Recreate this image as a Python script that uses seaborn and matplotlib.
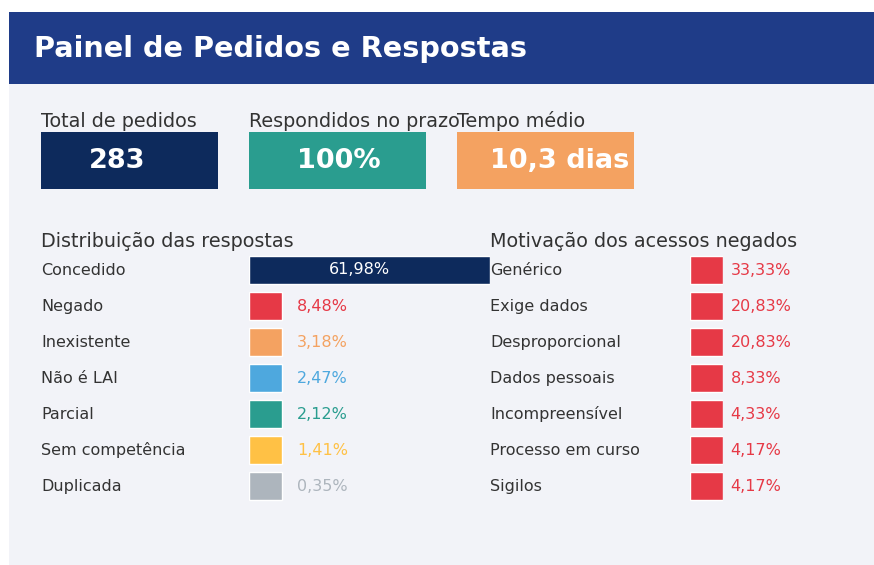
import numpy as np
import pandas as pd
import matplotlib
matplotlib.use("Agg")
import matplotlib.pyplot as plt
import matplotlib.transforms as mtransforms
from matplotlib.patches import Rectangle
import seaborn as sns

# --- data ---
kpi_labels = ["Total de pedidos", "Respondidos no prazo", "Tempo médio"]
kpi_values = ["283", "100%", "10,3 dias"]
kpi_colors = ["#0d2a5c", "#2a9d8f", "#f4a261"]

resp_categories = ["Concedido", "Negado", "Inexistente", "Não é LAI", "Parcial",
                   "Sem competência", "Duplicada"]
resp_values = [61.98, 8.48, 3.18, 2.47, 2.12, 1.41, 0.35]
resp_colors = ["#0d2a5c", "#e63946", "#f4a261", "#4ea8de", "#2a9d8f", "#ffc145", "#adb5bd"]

neg_categories = ["Genérico", "Exige dados", "Desproporcional", "Dados pessoais",
                  "Incompreensível", "Processo em curso", "Sigilos"]
neg_values = [33.33, 20.83, 20.83, 8.33, 4.33, 4.17, 4.17]
neg_color = "#e63946"

W, H = 874, 565
TEXT = "#333333"


def fx(x):
    return x / W


def fy(y):
    return 1 - y / H


def fmt(v):
    return f"{v:.2f}".replace(".", ",") + "%"


sns.set_style("white")
plt.rcParams["font.family"] = ["DejaVu Sans"]

fig = plt.figure(figsize=(W / 100, H / 100), dpi=100)
fig.patch.set_facecolor("white")

# panel + header
fig.add_artist(Rectangle((fx(9), fy(565)), fx(865), 553 / H, transform=fig.transFigure,
                         facecolor="#f2f3f8", edgecolor="none", zorder=0))
fig.add_artist(Rectangle((fx(9), fy(84)), fx(865), 72 / H, transform=fig.transFigure,
                         facecolor="#1f3c88", edgecolor="none", zorder=1))
fig.text(fx(34), fy(49), "Painel de Pedidos e Respostas", color="white",
         fontsize=20.7, fontweight="bold", va="center", ha="left")

# KPI cards
kpi_x = [41, 249, 457]
kpi_text_cx = [117, 339, 560]
for lbl, val, col, x0, tcx in zip(kpi_labels, kpi_values, kpi_colors, kpi_x, kpi_text_cx):
    fig.text(fx(x0), fy(127), lbl, color=TEXT, fontsize=13.8, va="baseline", ha="left")
    fig.add_artist(Rectangle((fx(x0), fy(189)), fx(177), 57 / H, transform=fig.transFigure,
                             facecolor=col, edgecolor="none", zorder=2))
    fig.text(fx(tcx), fy(161), val, color="white", fontsize=19.5, fontweight="bold",
             va="center", ha="center", zorder=3)

# section headings
fig.text(fx(41), fy(247), "Distribuição das respostas", color=TEXT, fontsize=13.8,
         va="baseline", ha="left")
fig.text(fx(490), fy(247), "Motivação dos acessos negados", color=TEXT, fontsize=13.8,
         va="baseline", ha="left")

ROW_TOP, ROW_H = 252, 36
n_rows = len(resp_categories)


def bar_panel(ax_left_px, ax_width_px, label_x_px, cats, vals, colors, xmax, min_val,
              text_offset_pt, inside_first):
    ax = fig.add_axes([fx(ax_left_px), fy(ROW_TOP + ROW_H * n_rows),
                       fx(ax_width_px), ROW_H * n_rows / H])
    df = pd.DataFrame({"cat": cats, "val": vals})
    # short bars keep a minimum visible width
    df["shown"] = np.maximum(df["val"], min_val)
    sns.barplot(data=df, x="shown", y="cat", hue="cat", palette=colors, legend=False,
                orient="h", width=0.8, saturation=1, ax=ax)
    ax.set_xlim(0, xmax)
    ax.set_ylim(n_rows - 0.5, -0.5)
    ax.axis("off")
    trans = mtransforms.blended_transform_factory(fig.transFigure, ax.transData)
    for i, (c, v, s, col) in enumerate(zip(cats, vals, df["shown"], colors)):
        ax.annotate(c, xy=(fx(label_x_px), i), xycoords=trans, xytext=(0, -3.6),
                    textcoords="offset points", color=TEXT, fontsize=11.5,
                    va="baseline", ha="left", annotation_clip=False)
        if inside_first and i == 0:
            ax.text(s / 2 - xmax * 0.04, i, fmt(v), color="white", fontsize=11.5,
                    va="center", ha="center")
        else:
            ax.annotate(fmt(v), xy=(s, i), xytext=(text_offset_pt, -3.6),
                        textcoords="offset points", color=col, fontsize=11.5,
                        va="baseline", ha="left", annotation_clip=False)
    return ax


bar_panel(249, 241, 41, resp_categories, resp_values, resp_colors,
          xmax=max(resp_values), min_val=8.48, text_offset_pt=10.8, inside_first=True)
bar_panel(690, 33, 490, neg_categories, neg_values, [neg_color] * n_rows,
          xmax=max(neg_values), min_val=max(neg_values), text_offset_pt=5.5,
          inside_first=False)

fig.savefig("out.png", dpi=100, facecolor=fig.get_facecolor())
